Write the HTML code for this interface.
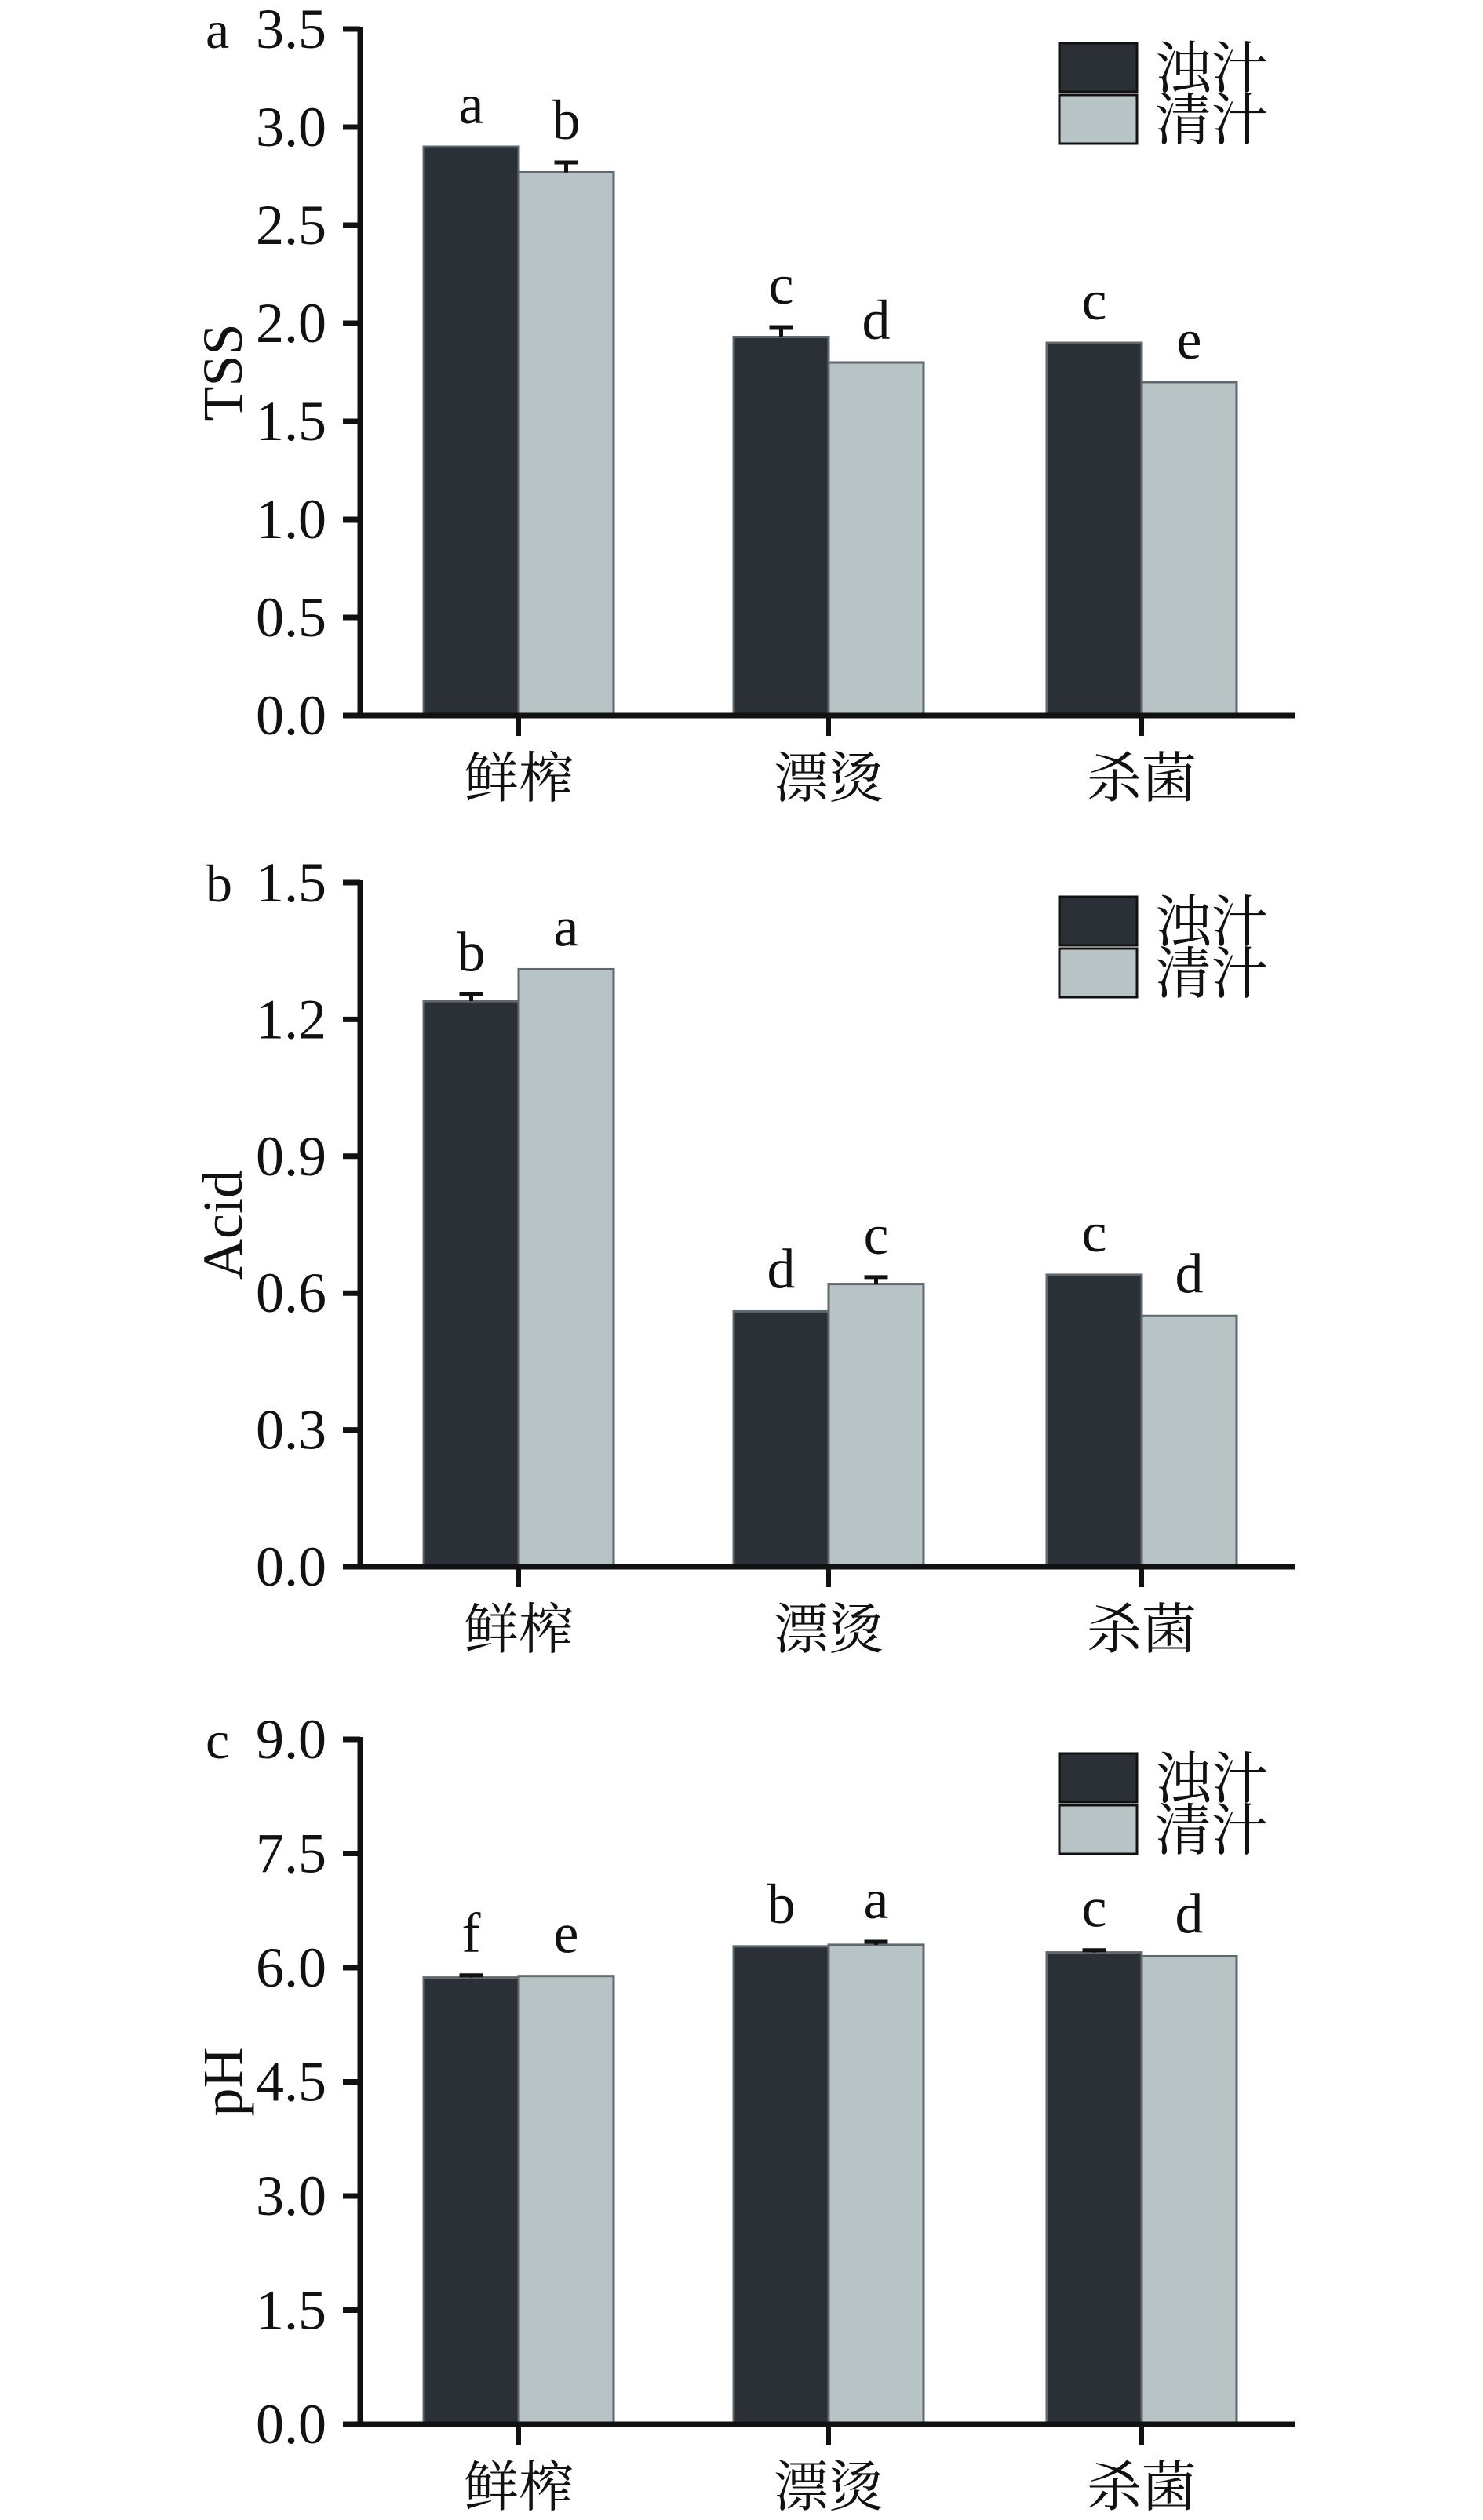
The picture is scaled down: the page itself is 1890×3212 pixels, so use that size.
<!DOCTYPE html>
<html><head><meta charset="utf-8"><style>
html,body{margin:0;padding:0;background:#fff;}
svg{display:block;}
text{font-family:"Liberation Serif","Noto Serif CJK SC","Noto Sans CJK SC",serif;fill:#111;}
</style></head><body>
<svg id="chart" width="1890" height="3212" viewBox="0 0 1890 3212" xmlns="http://www.w3.org/2000/svg"></svg>
<script>
const categories = ["鲜榨", "漂烫", "杀菌"];
const seriesNames = ["浊汁", "清汁"];
const tssTurbid = [2.90, 1.93, 1.90];
const tssClear = [2.77, 1.80, 1.70];
const tssErrTurbid = [0.00, 0.05, 0.00];
const tssErrClear = [0.05, 0.00, 0.00];
const tssLetters = [["a","b"],["c","d"],["c","e"]];
const tssTicks = ["0.0","0.5","1.0","1.5","2.0","2.5","3.0","3.5"];
const acidTurbid = [1.24, 0.56, 0.64];
const acidClear = [1.31, 0.62, 0.55];
const acidErrTurbid = [0.015, 0.0, 0.0];
const acidErrClear = [0.0, 0.015, 0.0];
const acidLetters = [["b","a"],["d","c"],["c","d"]];
const acidTicks = ["0.0","0.3","0.6","0.9","1.2","1.5"];
const phTurbid = [5.87, 6.28, 6.20];
const phClear = [5.89, 6.30, 6.15];
const phErrTurbid = [0.03, 0.0, 0.03];
const phErrClear = [0.0, 0.04, 0.0];
const phLetters = [["f","e"],["b","a"],["c","d"]];
const phTicks = ["0.0","1.5","3.0","4.5","6.0","7.5","9.0"];

const NS = "http://www.w3.org/2000/svg";
const svg = document.getElementById("chart");
function mk(tag, attrs, parent, txt){
  const e = document.createElementNS(NS, tag);
  for (const k in attrs) e.setAttribute(k, attrs[k]);
  if (txt !== undefined) e.textContent = txt;
  (parent || svg).appendChild(e);
  return e;
}
const AX = 459, AXEND = 1650;
const groupCenters = [661, 1056, 1455];
const BW = 121;

function panel(key, letter, title, top, zero, ticks, turbid, clear, errT, errC, letters){
  const g = mk("g", {});
  
  
  const maxV = parseFloat(ticks[ticks.length-1]);
  const y = v => zero - (v / maxV) * (zero - top);
  const x = i => groupCenters[i];
  for (let i = 0; i < categories.length; i++){
    const vals = [turbid[i], clear[i]], errs = [errT[i], errC[i]];
    const fills = ["#2b3037", "#b8c3c5"];
    for (let s = 0; s < 2; s++){
      const x0 = s === 0 ? x(i) - BW : x(i);
      const r = mk("rect", {x:x0, y:y(vals[s]), width:BW, height:zero - y(vals[s]), fill:fills[s], stroke:"#5f686c", "stroke-width":3}, g);
      
      
      const cx = x0 + BW/2;
      let topY = y(vals[s]);
      if (errs[s] > 0){
        const ey = y(vals[s] + errs[s]);
        const eb = mk("path", {d:`M${cx} ${y(vals[s])} V${ey} M${cx-15} ${ey} H${cx+15}`, stroke:"#111", "stroke-width":5, fill:"none"}, g);
        
        
        topY = ey;
      }
      const lt = mk("text", {x:cx, y:topY - 30, "font-size":72, "text-anchor":"middle"}, g, letters[i][s]);
      
      
    }
  }
  const ya = mk("line", {x1:AX, y1:top - 3, x2:AX, y2:zero + 3, stroke:"#111", "stroke-width":7}, g);
  
  
  const xa = mk("line", {x1:AX - 22, y1:zero, x2:AXEND, y2:zero, stroke:"#111", "stroke-width":7}, g);
  
  
  for (const t of ticks){
    const ty = y(parseFloat(t));
    mk("line", {x1:AX - 22, y1:ty, x2:AX, y2:ty, stroke:"#111", "stroke-width":7}, g);
    const tl = mk("text", {x:416, y:ty + 24, "font-size":72, "text-anchor":"end"}, g, t);
    
    
  }
  for (let i = 0; i < categories.length; i++){
    mk("line", {x1:x(i), y1:zero, x2:x(i), y2:zero + 26, stroke:"#111", "stroke-width":6}, g);
    const cl = mk("text", {x:x(i), y:zero + 104, "font-size":70, "text-anchor":"middle"}, g, categories[i]);
    
    
  }
  const pl = mk("text", {x:262, y:top + 24, "font-size":68}, g, letter);
  
  
  const mid = (top + zero)/2;
  const yt = mk("text", {x:0, y:0, "font-size":72, "text-anchor":"middle", transform:`translate(308 ${mid}) rotate(-90)`}, g, title);
  
  
  const ly = top + 18;
  const fills = ["#2b3037", "#b8c3c5"];
  for (let s = 0; s < 2; s++){
    const lg = mk("g", {}, g);
    
    
    mk("rect", {x:1350, y:ly + s*66, width:99, height:62, fill:fills[s], stroke:"#111", "stroke-width":3}, lg);
    mk("text", {x:1472, y:ly + s*66 + 57, "font-size":72}, lg, seriesNames[s]);
  }
}
panel("tss", "a", "TSS", 37, 912, tssTicks, tssTurbid, tssClear, tssErrTurbid, tssErrClear, tssLetters);
panel("acid", "b", "Acid", 1125, 1997, acidTicks, acidTurbid, acidClear, acidErrTurbid, acidErrClear, acidLetters);
panel("ph", "c", "pH", 2217, 3090, phTicks, phTurbid, phClear, phErrTurbid, phErrClear, phLetters);
</script>
</body></html>
